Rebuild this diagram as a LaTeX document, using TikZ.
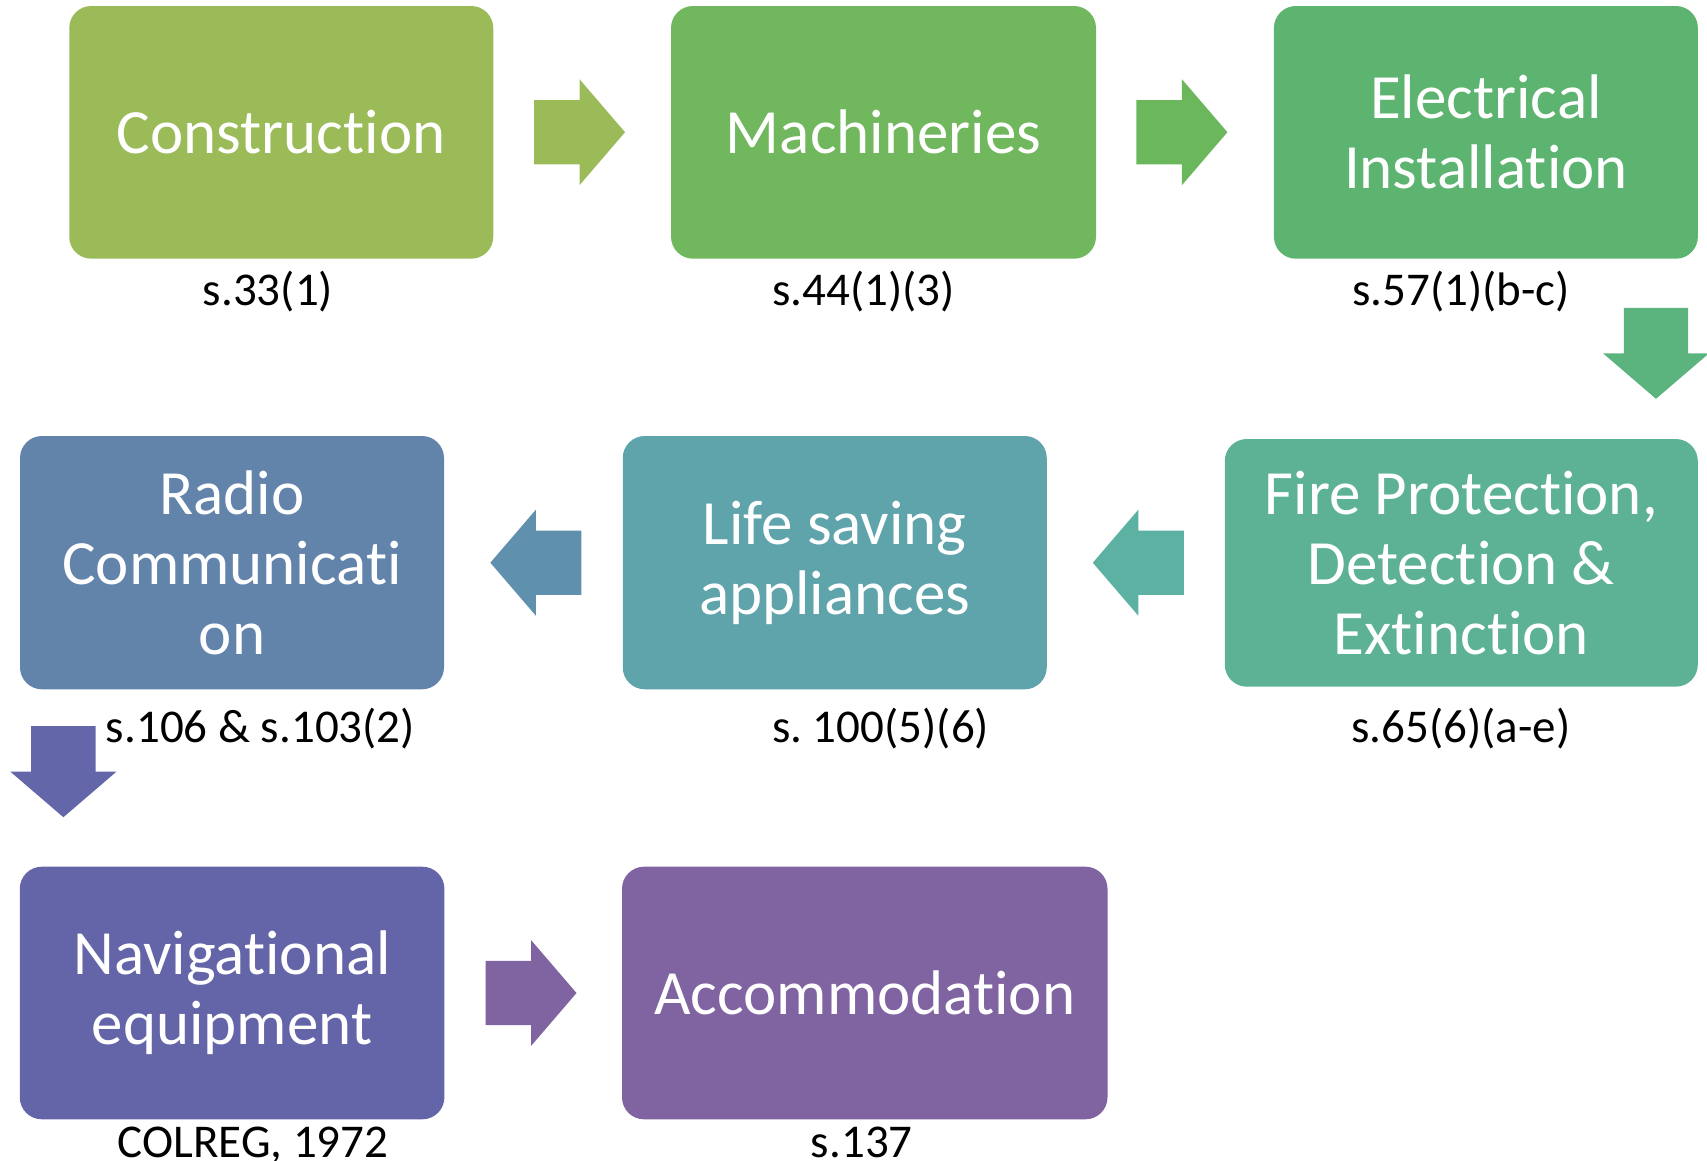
\documentclass[tikz,border=0pt]{standalone}
\usepackage{fontspec}
\setmainfont{Carlito}[Ligatures={NoCommon,NoRare,NoContextual}]
\frenchspacing
\definecolor{cCon}{HTML}{9BBB59}
\definecolor{cMac}{HTML}{71B75D}
\definecolor{cEle}{HTML}{5DB471}
\definecolor{cFire}{HTML}{5DB296}
\definecolor{cLife}{HTML}{5FA3AB}
\definecolor{cRadio}{HTML}{6283AA}
\definecolor{cNav}{HTML}{6464A8}
\definecolor{cAcc}{HTML}{8064A2}
\definecolor{cAa}{HTML}{9BBB59}
\definecolor{cAb}{HTML}{6AB75C}
\definecolor{cAc}{HTML}{5BB37D}
\definecolor{cAd}{HTML}{5CB1A3}
\definecolor{cAe}{HTML}{5F90AE}
\definecolor{cAf}{HTML}{6366A8}
\definecolor{cAg}{HTML}{8064A2}
\begin{document}
\begin{tikzpicture}[x=1pt,y=-1pt,
  box/.style={rounded corners=22pt, inner sep=0pt, text=white, align=center,
    font=\fontsize{63}{70}\selectfont},
  lab/.style={anchor=base, inner sep=0pt, text=black, font=\fontsize{47}{50}\selectfont},
  blockarrow/.pic={\fill[#1] (-45.5,-32.2) -- (0,-32.2) -- (0,-53) -- (45.5,0) -- (0,53) -- (0,32.2) -- (-45.5,32.2) -- cycle;}]
\useasboundingbox (0,0) rectangle (1707,1160);

% boxes
\node[box, fill=cCon, minimum width=424pt, minimum height=252.7pt] (con) at (281.25,132.35) {Construction};
\node[box, fill=cMac, minimum width=425pt, minimum height=252.7pt] (mac) at (883.5,132.35) {Machineries};
\node[box, fill=cEle, minimum width=424pt, minimum height=252.7pt] (ele) at (1485.9,132.35) {Electrical\\Installation};
\node[box, fill=cFire, minimum width=473pt, minimum height=247.7pt] (fire) at (1461.3,562.85) {Fire Protection,\\Detection \&\\Extinction};
\node[box, fill=cLife, minimum width=424pt, minimum height=253.3pt] (life) at (834.75,562.65) {Life saving\\appliances};
\node[box, fill=cRadio, minimum width=424pt, minimum height=253.3pt] (radio) at (232,562.65) {Radio\\Communicati\\on};
\node[box, fill=cNav, minimum width=424.6pt, minimum height=252.6pt] (nav) at (232.1,993) {Navigational\\equipment};
\node[box, fill=cAcc, minimum width=485.5pt, minimum height=252.6pt] (acc) at (864.75,993) {Accommodation};

% labels
\node[lab] (lcon) at (268,305) {s.33(1)};
\node[lab] (lmac) at (863.6,305) {s.44(1)(3)};
\node[lab] (lele) at (1461,305) {s.57(1)(b-c)};
\node[lab] (lradio) at (260.5,742.7) {s.106 \& s.103(2)};
\node[lab] (llife) at (880.6,742.7) {s. 100(5)(6)};
\node[lab] (lfire) at (1461,742.7) {s.65(6)(a-e)};
\node[lab] (lnav) at (253,1157) {COLREG, 1972};
\node[lab] (lacc) at (861.8,1157) {s.137};

% block arrows
\coordinate (a1) at (579.5,132.2);
\coordinate (a2) at (1181.9,132.2);
\coordinate (a3) at (1656,353.3);
\coordinate (a4) at (1138.3,562.7);
\coordinate (a5) at (535.85,562.7);
\coordinate (a6) at (63.4,771.7);
\coordinate (a7) at (531,993);
\pic at (a1) {blockarrow=cAa};
\pic at (a2) {blockarrow=cAb};
\pic[rotate=-90] at (a3) {blockarrow=cAc};
\pic[rotate=180] at (a4) {blockarrow=cAd};
\pic[rotate=180] at (a5) {blockarrow=cAe};
\pic[rotate=-90] at (a6) {blockarrow=cAf};
\pic at (a7) {blockarrow=cAg};
\end{tikzpicture}
\end{document}
